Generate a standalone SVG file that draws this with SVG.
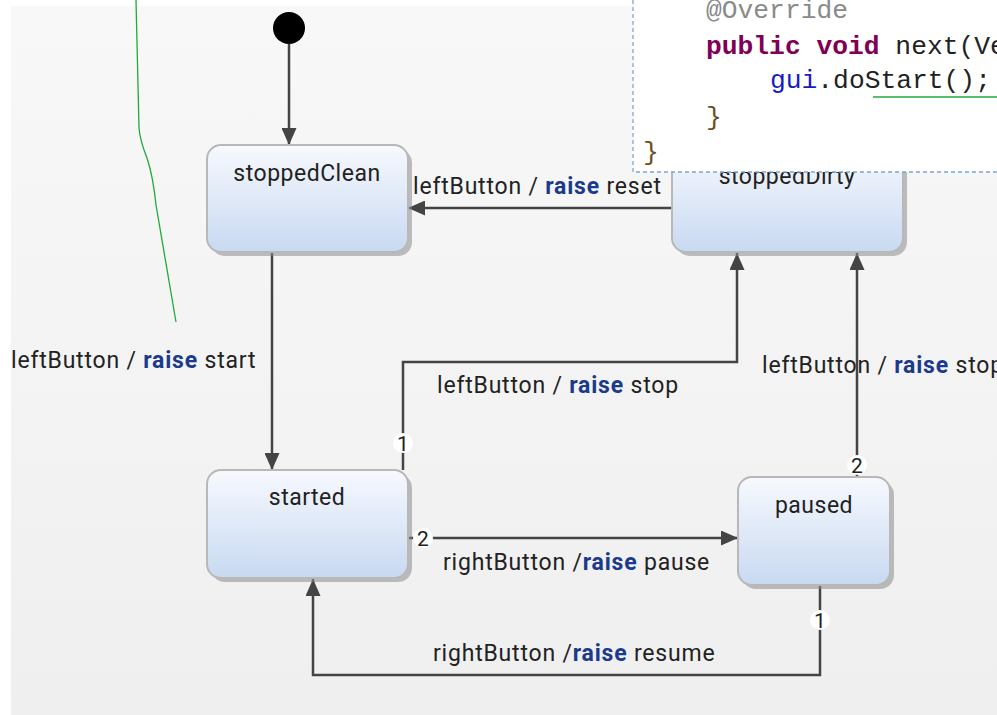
<svg xmlns="http://www.w3.org/2000/svg" width="997" height="715" viewBox="0 0 997 715">
<defs>
<linearGradient id="bg" x1="0" y1="0" x2="0" y2="1">
<stop offset="0" stop-color="#f8f8f8"/>
<stop offset="1" stop-color="#efefef"/>
</linearGradient>
<linearGradient id="nodeFill" x1="0" y1="0" x2="0" y2="1">
<stop offset="0" stop-color="#f7f9fe"/>
<stop offset="1" stop-color="#c8d9f1"/>
</linearGradient>
<marker id="arrow" markerUnits="userSpaceOnUse" markerWidth="17" markerHeight="15" viewBox="0 0 17 15" refX="17" refY="7.5" orient="auto">
<path d="M0,0 L17,7.5 L0,15 z" fill="#444"/>
</marker>
</defs>
<style>
.node-shadow{fill:#8a8a8a;opacity:0.55}
.node-box{fill:url(#nodeFill);stroke:#b8b8b8;stroke-width:2}
.node-label{font-family:Roboto,"Liberation Sans",sans-serif;font-size:23px;letter-spacing:0.5px;fill:#222;text-anchor:middle}
.edge{fill:none;stroke:#444;stroke-width:2.5}
.lbl{font-family:Roboto,"Liberation Sans",sans-serif;font-size:23px;letter-spacing:0.8px;fill:#222}
.kw{font-weight:bold;fill:#1b3a8c}
.pr-bg{fill:#ffffff}
.pr-txt{font-family:Roboto,"Liberation Sans",sans-serif;font-size:21px;fill:#222;text-anchor:middle}
.code{font-family:"Liberation Mono","DejaVu Sans Mono",monospace;font-size:26.3px;fill:#222}
.ann{fill:none;stroke:#1faa3a;stroke-width:1.3}
</style>
<rect x="0" y="0" width="997" height="715" fill="#ffffff"/>
<rect x="11" y="6" width="986" height="709" fill="url(#bg)"/>

<g id="connectors">
<line class="edge" x1="289" y1="44" x2="289" y2="145" marker-end="url(#arrow)"/>
<line class="edge" x1="672" y1="208" x2="408" y2="208" marker-end="url(#arrow)"/>
<line class="edge" x1="272" y1="253" x2="272" y2="470" marker-end="url(#arrow)"/>
<polyline class="edge" points="403,470 403,362 737,362 737,253" marker-end="url(#arrow)"/>
<line class="edge" x1="857" y1="477" x2="857" y2="253" marker-end="url(#arrow)"/>
<line class="edge" x1="408" y1="538" x2="738" y2="538" marker-end="url(#arrow)"/>
<polyline class="edge" points="820,585 820,675 313,675 313,579" marker-end="url(#arrow)"/>
<text class="lbl" x="413" y="194">leftButton / <tspan class="kw">raise</tspan> reset</text>
<text class="lbl" x="11" y="368">leftButton / <tspan class="kw">raise</tspan> start</text>
<text class="lbl" x="437" y="393">leftButton / <tspan class="kw">raise</tspan> stop</text>
<text class="lbl" x="762" y="373">leftButton / <tspan class="kw">raise</tspan> stop</text>
<text class="lbl" x="443" y="570">rightButton /<tspan class="kw">raise</tspan> pause</text>
<text class="lbl" x="433" y="661">rightButton /<tspan class="kw">raise</tspan> resume</text>
<circle class="pr-bg" cx="403" cy="443" r="10"/>
<text class="pr-txt" x="403" y="451">1</text>
<circle class="pr-bg" cx="423" cy="538" r="10"/>
<text class="pr-txt" x="423" y="546">2</text>
<circle class="pr-bg" cx="857" cy="465" r="10"/>
<text class="pr-txt" x="857" y="473">2</text>
<circle class="pr-bg" cx="820" cy="620" r="10"/>
<text class="pr-txt" x="820" y="628">1</text>
</g>

<g id="initial">
<circle cx="289" cy="28" r="16" fill="#000"/>
</g>

<g id="stoppedClean">
<rect class="node-shadow" x="211" y="149" width="201" height="107" rx="14"/>
<rect class="node-box" x="207" y="145" width="201" height="107" rx="14"/>
<text class="node-label" x="307" y="181">stoppedClean</text>
</g>

<g id="stoppedDirty">
<rect class="node-shadow" x="676" y="152" width="231" height="104" rx="14"/>
<rect class="node-box" x="672" y="148" width="231" height="104" rx="14"/>
<text class="node-label" x="787" y="184">stoppedDirty</text>
</g>

<g id="started">
<rect class="node-shadow" x="211" y="474" width="201" height="108" rx="14"/>
<rect class="node-box" x="207" y="470" width="201" height="108" rx="14"/>
<text class="node-label" x="307" y="505">started</text>
</g>

<g id="paused">
<rect class="node-shadow" x="742" y="481" width="152" height="108" rx="14"/>
<rect class="node-box" x="738" y="477" width="152" height="108" rx="14"/>
<text class="node-label" x="814" y="513">paused</text>
</g>

<g id="annotation">
<path class="ann" d="M136,0 L139,128 C140,140 143,148 147,158 C151,170 154,185 156,205 L176,322"/>
</g>

<g id="code-popup">
<rect x="632" y="0" width="365" height="172" fill="#ffffff"/>
<path d="M633,0 L633,172 L997,172" fill="none" stroke="#7aa6d6" stroke-width="1.3" stroke-dasharray="4,3"/>
<text class="code" x="706" y="18" style="fill:#8a8a8a">@Override</text>
<text class="code" x="706" y="54"><tspan font-weight="bold" style="fill:#7f0055">public void</tspan> next(Ve</text>
<text class="code" x="770" y="88"><tspan style="fill:#1a1ac0">gui</tspan>.doStart();</text>
<text class="code" x="706" y="125" style="fill:#6a5020">}</text>
<text class="code" x="643" y="160" style="fill:#6a5020">}</text>
<line class="ann" x1="873" y1="97" x2="997" y2="97"/>
</g>
</svg>
